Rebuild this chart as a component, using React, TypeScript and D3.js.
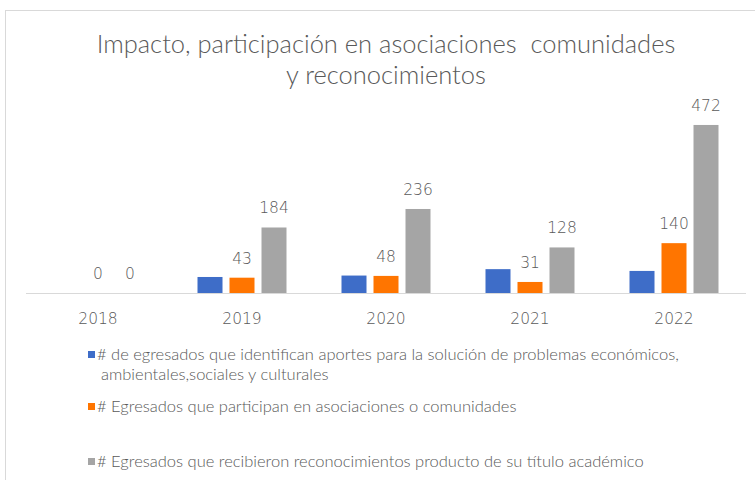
import * as d3 from "d3";

const years = ["2018", "2019", "2020", "2021", "2022"];
const aportes = [0, 45, 49, 67, 62];
const participan = [0, 43, 48, 31, 140];
const reconocimientos = [0, 184, 236, 128, 472];

const seriesNames = [
  "# de egresados que identifican aportes para la solución de problemas económicos,|ambientales,sociales y culturales",
  "# Egresados que participan en asociaciones o comunidades",
  "# Egresados que recibieron reconocimientos producto de su título académico",
];
const seriesColors = ["#3e6dc8", "#ff7500", "#a5a5a5"];
// blue bars carry no labels in the original
const showLabels = [false, true, true];

const width = 755;
const height = 480;
const baseY = 293;

export default function App() {
  const series = [aportes, participan, reconocimientos];
  const keys = ["a", "b", "c"];

  const x = d3.scaleBand().domain(years).range([26, 746]).padding(0);
  const x1 = d3.scaleBand().domain(keys).range([-44.5, 44.5]).paddingInner(7 / 32);
  const y = d3.scaleLinear().domain([0, 500]).range([baseY, 115]);

  const textColor = "#595959";
  const legendY = [360, 412, 467];

  return (
    <svg width={width} height={height} style={{ position: "absolute", left: 0, top: 0, background: "#fff" }}>
      <rect x={5.5} y={10.5} width={width} height={height} fill="#fff" stroke="#d9d9d9" />
      <text x={386} y={53} textAnchor="middle" fontFamily="Lato" fontWeight={300} fontSize={25.5} fill={textColor} style={{ whiteSpace: "pre" }}>
        {"Impacto, participación en asociaciones  comunidades"}
      </text>
      <text x={386} y={84} textAnchor="middle" fontFamily="Lato" fontWeight={300} fontSize={25.5} fill={textColor}>
        y reconocimientos
      </text>

      {series.map((vals, si) => (
        <g key={si} fill={seriesColors[si]}>
          {years.map((yr, i) =>
            vals[i] > 0 ? (
              <rect
                key={yr}
                x={x(yr)! + x.bandwidth() / 2 + x1(keys[si])!}
                y={y(vals[i])}
                width={x1.bandwidth()}
                height={baseY - y(vals[i])}
              />
            ) : null
          )}
        </g>
      ))}

      <line x1={26} x2={746} y1={baseY + 0.5} y2={baseY + 0.5} stroke="#d9d9d9" />

      {series.map((vals, si) =>
        showLabels[si]
          ? years.map((yr, i) => (
              <text
                key={`${si}-${yr}`}
                x={x(yr)! + x.bandwidth() / 2 + x1(keys[si])! + x1.bandwidth() / 2}
                y={y(vals[i]) - 14}
                textAnchor="middle"
                fontFamily="DejaVu Sans"
                fontWeight={200}
                fontSize={15.5}
                fill={textColor}
              >
                {vals[i]}
              </text>
            ))
          : null
      )}

      {years.map((yr) => (
        <text
          key={yr}
          x={x(yr)! + x.bandwidth() / 2}
          y={324}
          textAnchor="middle"
          fontFamily="DejaVu Sans"
          fontWeight={200}
          fontSize={15.5}
          fill={textColor}
        >
          {yr}
        </text>
      ))}

      {seriesNames.map((name, si) => (
        <g key={name}>
          <rect x={88} y={legendY[si] - 9} width={7} height={7} fill={seriesColors[si]} />
          {name.split("|").map((line, li) => (
            <text
              key={li}
              x={li === 0 ? 97 : 101}
              y={legendY[si] + li * 20}
              fontFamily="Lato"
              fontWeight={300}
              fontSize={16.5}
              fill={textColor}
            >
              {line}
            </text>
          ))}
        </g>
      ))}
    </svg>
  );
}
